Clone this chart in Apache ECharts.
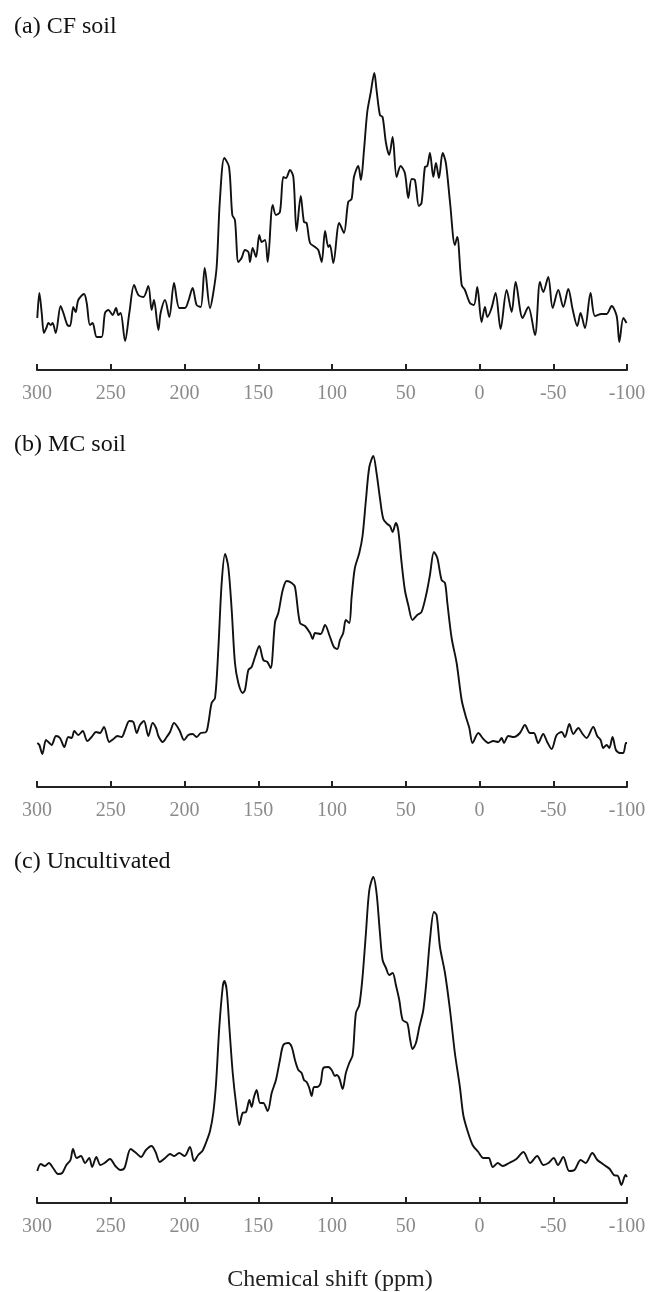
<!DOCTYPE html>
<html>
<head>
<meta charset="utf-8">
<script src="https://cdn.jsdelivr.net/npm/echarts@6/dist/echarts.min.js"></script>
<style>
html,body{margin:0;padding:0;background:#fff;}
#chart{width:651px;height:1292px;}
</style>
</head>
<body>
<div id="chart"></div>
<script>
// ---- data (chemical shift in ppm, intensity in arbitrary units) ----
const panelTitles = ['(a) CF soil', '(b) MC soil', '(c) Uncultivated'];
const axisTitle = 'Chemical shift (ppm)';
const tickLabels = [300, 250, 200, 150, 100, 50, 0, -50, -100];

const cfShift = [299.8,298.4,296.8,295.3,293.4,292.3,290.7,289.4,287.3,284.0,282.1,279.4,277.6,275.4,273.8,272.0,268.1,266.3,264.1,262.3,259.5,256.2,253.9,251.6,248.7,246.4,244.9,243.3,240.3,237.4,234.2,231.3,227.9,224.5,222.3,220.7,217.7,216.2,213.2,210.3,207.1,203.5,199.7,197.4,194.5,191.8,189.0,186.3,182.7,180.5,178.2,176.0,173.0,169.8,167.6,165.8,163.5,161.3,159.0,156.7,155.6,153.8,151.5,149.3,147.7,145.4,143.6,140.2,138.0,135.3,133.0,131.2,128.5,126.2,124.0,121.2,119.0,117.2,114.9,111.5,109.3,107.0,104.7,102.5,101.4,99.1,95.1,91.9,89.0,86.7,85.1,82.2,80.4,78.3,76.1,73.8,71.3,69.8,67.5,65.7,63.4,61.2,58.9,56.2,53.5,50.6,48.3,46.0,43.8,41.1,39.3,37.0,35.4,33.6,31.3,29.5,27.5,25.0,22.8,20.0,16.7,15.1,12.1,9.9,6.5,3.8,1.5,-1.4,-3.7,-5.3,-8.2,-10.9,-14.3,-18.4,-21.8,-24.5,-29.2,-33.1,-37.6,-41.0,-43.2,-46.6,-49.6,-53.4,-56.8,-60.2,-63.1,-66.3,-68.5,-71.5,-75.3,-78.3,-82.8,-86.2,-89.6,-93.0,-94.8,-97.5,-99.7];
const cfIntensity = [52,77,57,37,43,47,45,47,37,64,57,45,44,63,58,70,76,67,45,47,33,33,57,60,55,62,55,57,29,57,85,75,73,84,60,70,40,57,70,53,87,62,62,69,82,65,63,102,62,77,103,170,212,203,155,150,108,112,120,118,108,122,113,135,128,130,108,165,155,158,193,192,200,193,139,174,148,147,127,123,120,108,139,123,125,107,147,137,168,171,193,204,190,220,258,277,297,280,255,253,227,215,233,193,204,197,172,191,190,164,167,203,204,217,193,207,192,217,207,168,125,133,85,80,67,65,83,48,63,53,62,77,41,80,58,88,52,63,35,88,78,93,62,80,63,81,61,44,57,42,77,54,56,56,64,54,28,52,47];

const mcShift = [299.8,298.4,296.4,293.9,292.3,290.1,287.1,284.4,281.5,278.8,276.5,274.7,272.0,269.0,265.9,263.0,260.0,257.3,254.6,251.0,248.2,245.5,242.6,240.3,237.4,234.7,232.4,230.2,227.5,224.5,221.6,219.3,217.7,214.8,212.1,209.8,207.1,203.5,200.3,197.4,194.5,191.8,189.0,185.4,183.8,181.6,179.3,177.1,174.8,172.5,170.3,168.0,165.8,163.5,160.6,159.0,156.7,154.5,152.2,149.3,146.6,143.8,141.6,138.6,136.4,133.4,130.7,127.3,125.1,121.7,118.3,114.9,113.1,111.5,107.7,104.7,101.6,98.7,96.4,94.6,92.4,90.6,88.3,86.7,84.5,81.5,79.3,77.0,74.7,72.0,69.8,67.5,65.2,62.5,60.7,58.9,56.7,55.1,52.8,50.6,48.3,45.4,42.2,39.3,35.9,33.6,30.9,28.6,25.7,23.4,21.8,18.9,15.5,12.1,9.2,6.9,4.7,0.8,-2.6,-6.0,-9.3,-12.7,-15.0,-16.6,-19.5,-23.3,-27.4,-30.8,-34.2,-36.9,-39.8,-43.2,-45.9,-48.9,-52.3,-55.7,-57.9,-60.9,-63.6,-67.0,-69.9,-72.6,-77.1,-79.8,-82.1,-83.9,-86.2,-88.0,-90.2,-92.5,-95.2,-97.5,-99.3,-100];
const mcIntensity = [44,42,33,47,45,42,51,49,40,50,49,56,52,56,46,50,55,54,60,45,48,51,50,57,66,65,54,62,66,51,64,59,51,45,50,55,64,57,47,52,53,50,54,55,64,84,89,137,204,233,220,177,124,104,94,97,117,120,130,141,127,125,119,165,174,197,206,204,200,164,161,154,148,154,153,162,151,140,138,147,154,167,164,190,219,234,251,287,320,331,314,289,268,263,261,255,264,257,224,197,182,167,172,175,194,212,235,229,207,204,184,149,124,87,70,59,44,54,48,44,46,45,49,44,51,50,54,62,54,54,44,53,45,38,52,55,50,63,53,59,53,49,60,51,47,39,42,39,50,37,34,34,44,44];

const ucShift = [299.8,297.5,294.7,291.9,289.1,285.7,282.9,280.1,277.3,275.6,273.1,270.2,267.4,264.6,262.6,259.8,257.0,254.2,250.5,246.9,243.5,240.7,236.5,232.8,229.5,226.1,222.4,219.6,216.8,213.1,209.8,207.0,203.6,199.9,196.3,193.5,190.7,187.9,185.0,182.7,180.5,178.6,176.4,174.1,173.0,171.4,169.6,167.3,165.1,162.8,160.6,158.3,156.0,154.5,152.9,151.1,148.8,146.6,143.6,140.9,138.0,135.3,133.0,129.6,127.3,125.1,122.8,120.6,119.0,117.2,115.4,113.8,112.2,110.0,107.7,105.9,102.5,100.2,98.0,96.9,95.1,92.8,90.6,88.3,86.0,83.8,81.5,79.3,77.0,74.7,72.0,69.8,67.5,65.7,63.4,61.2,58.9,56.7,54.4,52.1,49.0,47.2,45.4,43.1,40.8,38.1,35.9,33.6,30.9,29.1,26.8,23.4,20.0,16.7,13.3,11.0,8.3,4.7,0.8,-2.6,-6.2,-9.0,-12.4,-15.7,-20.2,-25.0,-29.8,-34.3,-39.1,-43.3,-46.7,-50.3,-53.2,-56.8,-60.8,-64.4,-68.6,-72.0,-76.5,-79.9,-82.7,-85.5,-88.3,-91.1,-93.9,-96.2,-99.0,-100];
const ucIntensity = [32,39,37,40,35,29,30,38,43,54,45,47,40,45,36,46,38,40,44,37,33,35,54,50,46,53,57,51,41,45,49,47,50,47,56,42,48,52,62,72,90,120,176,216,222,213,176,130,100,78,90,91,103,96,106,113,100,100,92,110,123,143,158,160,156,143,133,130,123,121,115,107,116,116,120,135,136,133,127,128,125,114,130,140,148,190,198,226,270,313,326,310,270,243,235,228,230,218,203,183,180,165,154,160,176,193,223,263,291,288,256,230,193,150,116,88,73,58,51,45,45,36,40,37,40,44,51,40,47,38,40,45,38,46,32,33,43,40,50,43,40,37,34,28,27,18,28,26];

// ---- chart ----
const seriesData = [
  cfShift.map((s, i) => [s, cfIntensity[i]]),
  mcShift.map((s, i) => [s, mcIntensity[i]]),
  ucShift.map((s, i) => [s, ucIntensity[i]])
];

const grids = [
  {left: 37, right: 24, top: 40, height: 330},
  {left: 37, right: 24, top: 447, height: 340},
  {left: 37, right: 24, top: 863, height: 340}
];
const titleY = [27, 445, 862];

const chart = echarts.init(document.getElementById('chart'), null, {renderer: 'canvas'});

const xAxes = grids.map((g, i) => ({
  gridIndex: i,
  type: 'value',
  min: -100,
  max: 300,
  interval: 50,
  inverse: true,
  axisLine: {show: true, onZero: false, lineStyle: {color: '#222', width: 2}},
  axisTick: {show: true, inside: true, length: 6, lineStyle: {color: '#222', width: 2}},
  axisLabel: {
    color: '#8a8a8a', fontSize: 20, fontFamily: '"Liberation Serif", serif', margin: 14,
    showMinLabel: true, showMaxLabel: true,
    formatter: v => tickLabels.indexOf(v) >= 0 ? String(v) : ''
  },
  splitLine: {show: false}
}));

const yAxes = grids.map((g, i) => ({
  gridIndex: i,
  type: 'value',
  min: 0,
  max: g.height,
  show: false
}));

const series = seriesData.map((d, i) => ({
  type: 'line',
  xAxisIndex: i,
  yAxisIndex: i,
  data: d,
  showSymbol: false,
  smooth: 0.3,
  lineStyle: {color: '#111', width: 1.9},
  silent: true
}));

const graphics = panelTitles.map((t, i) => ({
  type: 'text',
  x: 14,
  y: titleY[i],
  style: {
    text: t,
    font: '24px "Liberation Serif", serif',
    fill: '#111',
    textVerticalAlign: 'middle',
    verticalAlign: 'middle'
  }
}));
graphics.push({
  type: 'text',
  x: 330,
  y: 1280,
  style: {
    text: axisTitle,
    font: '24px "Liberation Serif", serif',
    fill: '#222',
    textAlign: 'center',
    align: 'center',
    textVerticalAlign: 'middle',
    verticalAlign: 'middle'
  }
});

chart.setOption({
  animation: false,
  backgroundColor: '#fff',
  grid: grids,
  xAxis: xAxes,
  yAxis: yAxes,
  series: series,
  graphic: graphics
});
</script>
</body>
</html>
